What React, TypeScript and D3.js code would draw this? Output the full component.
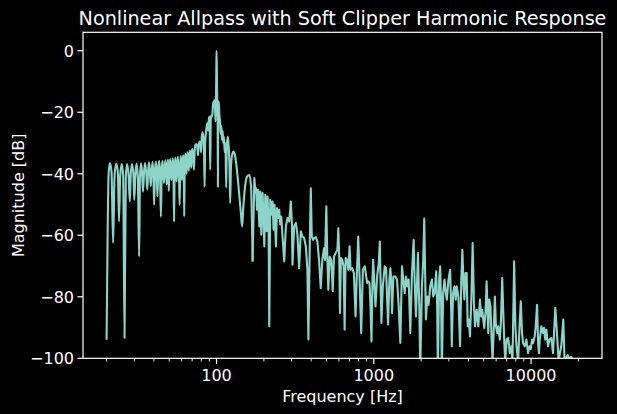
import React from 'react';
import * as d3 from 'd3';

type Pt = [number, number];

// [frequency Hz, magnitude dB]
const band20to100: Pt[] = [
  [20.0, -94], [20.3, -60], [20.6, -40], [21.0, -36.5], [21.5, -39.5], [22.0, -62.5], [22.5, -40],
  [23.1, -36.7], [23.6, -40], [24.0, -55.5], [24.4, -40.5], [25.0, -36.8], [25.5, -41], [26.0, -93.4],
  [26.5, -41], [27.0, -36.8], [27.6, -40.5], [28.1, -49], [28.5, -40], [29.0, -36.8], [29.6, -40],
  [30.0, -48.5], [30.5, -40], [31.0, -36.7], [31.6, -41], [32.2, -66.9], [32.6, -41], [33.1, -36.6],
  [33.6, -39.5], [34.1, -45.8], [34.6, -39.5], [35.1, -36.5], [35.7, -39.5], [36.3, -45.2], [36.7, -39.5],
  [37.2, -36.3], [37.7, -39.5], [38.2, -44], [38.7, -39], [39.2, -36.2], [39.7, -40], [40.1, -50.1],
  [40.6, -39.5], [41.1, -36], [41.6, -39], [42.1, -47.4], [42.6, -39], [43.2, -35.8], [43.7, -39.5],
  [44.3, -54], [44.8, -39], [45.3, -35.8], [45.8, -39], [46.3, -43], [46.8, -38.5], [47.3, -35.6],
  [47.8, -38.5], [48.2, -43.5], [48.7, -38.5], [49.2, -35.4], [49.7, -45.6], [50.2, -38.5], [50.7, -35.2],
  [51.2, -38.5], [51.7, -42], [52.2, -38], [52.7, -35], [53.2, -38.5], [53.7, -55.6], [54.2, -38],
  [54.7, -34.8], [55.2, -38], [55.7, -42.5], [56.2, -37.5], [56.7, -34.5], [57.2, -37.5], [57.7, -41],
  [58.3, -50.1], [58.8, -37], [59.3, -34.2], [59.8, -37], [60.3, -42], [60.8, -36.5], [61.4, -34],
  [61.9, -37], [62.3, -53.9], [62.8, -36.5], [63.4, -33.5], [63.9, -36], [64.4, -40], [64.9, -35.5],
  [65.5, -33], [66.0, -35.5], [66.6, -39], [67.1, -35], [67.7, -32.5], [68.3, -35], [69.0, -38],
  [69.6, -33], [70.3, -32], [71.0, -34], [71.8, -38.7], [72.6, -32.5], [73.5, -30.6], [74.5, -30.3],
  [75.4, -31], [76.2, -34], [77.0, -31], [78.0, -29.5], [79.0, -30], [79.8, -33], [80.6, -28],
  [81.5, -26.5], [82.5, -28], [83.3, -33], [84.0, -44.2], [84.7, -30], [86.0, -25.7], [87.4, -23.5],
  [88.5, -26], [89.5, -22], [90.3, -21.4], [91.2, -38.7], [92.0, -22], [93.0, -21], [93.9, -21.4],
  [94.8, -18], [95.7, -16.5], [96.5, -17], [97.1, -16], [97.9, -19], [98.6, -23], [99.2, -16],
  [99.6, -8], [100.0, 0],
];

const band100to170: Pt[] = [
  [100.5, -6], [101.0, -15.5], [101.6, -17], [102.0, -44.2], [102.5, -20], [103.3, -16.5], [104.3, -21],
  [105.3, -23], [106.3, -27], [107.3, -24.5], [108.3, -29], [109.3, -26], [110.5, -30], [111.5, -28],
  [112.7, -33], [114.0, -30], [115.2, -44.5], [116.3, -31], [117.9, -27.9], [119.5, -31], [121.0, -38],
  [122.1, -49.5], [123.5, -38], [125.5, -34], [128.1, -32.8], [131.0, -34], [135.0, -39], [139.0, -46],
  [143.0, -53], [145.5, -57.1], [148.0, -51], [152.0, -44], [156.0, -41], [161.8, -40.4], [165.8, -44.2],
  [169.6, -68.5],
];

const band170to600: Pt[] = [
  [174.0, -41.4], [176.5, -45.8], [178.3, -44.7], [181.0, -51.7], [183.6, -45.2],
  [187.2, -57.1], [189.9, -45.8], [192.7, -59.8], [196.3, -46.3], [199.3, -55], [201.3, -63.6],
  [204.2, -46.8], [208.2, -58.7], [211.2, -47.4], [214.3, -57.1], [216.5, -89.6], [219.6, -48.5],
  [222.9, -53.3], [227.2, -49], [230.5, -58.2], [233.9, -50.1], [238.7, -63.6], [242.3, -51.2],
  [246.9, -54.4], [250.4, -51.7], [254.2, -56.5], [257.9, -53.9], [262.8, -60.4], [269.4, -68.5],
  [276.1, -57.1], [282.7, -54.4], [289.7, -55.5], [297.0, -49], [301.4, -56], [304.0, -69.6],
  [311.6, -57.1], [319.4, -56], [327.0, -59.8], [335.2, -70.7], [343.6, -58.7], [351.7, -60.4],
  [360.6, -60.9], [369.7, -63.6], [378.3, -71.2], [383.9, -93.9], [391.8, -62.5], [397.6, -44.7],
  [403.4, -60.4], [411.1, -61.5], [417.2, -60.9], [427.6, -60.6], [437.6, -62], [448.6, -68],
  [459.9, -77.2], [470.8, -68], [482.6, -64.2], [489.7, -68], [499.0, -50.6], [506.4, -67],
  [513.8, -77.7], [524.4, -67], [536.7, -68], [548.0, -78.2], [558.4, -66.9], [572.3, -65.8],
  [587.0, -64.7], [594.8, -57.7],
];

const band600to3500: Pt[] = [
  [603.5, -68.0], [609.4, -85.3], [618.3, -67.4], [630.5, -68.0], [642.8, -70.1], [652.4, -90.7],
  [662.0, -67.4], [678.2, -68.0], [688.3, -71.2], [701.7, -63.6], [712.0, -71.2], [729.5, -70.7],
  [747.3, -72.3], [765.8, -86.4], [780.7, -72.3], [796.2, -60.4], [811.7, -73.4], [831.6, -91.8],
  [852.1, -71.2], [877.2, -70.1], [894.5, -73.4], [907.7, -75.5], [920.9, -75.0], [939.1, -75.5],
  [952.8, -83.1], [966.7, -94.5], [981.1, -74.4], [990.6, -68.0], [1010, -76.6], [1025, -83.1],
  [1050, -73.4], [1076, -69.0], [1092, -62.0], [1108, -78.8], [1118, -88.5], [1141, -76.6],
  [1157, -73.4], [1174, -70.1], [1197, -70.7], [1214, -79.9], [1232, -89.0], [1257, -74.4],
  [1275, -70.7], [1294, -75.5], [1306, -85.3], [1332, -73.4], [1371, -73.4], [1405, -74.4],
  [1440, -83.1], [1475, -95.0], [1511, -70.1], [1541, -74.4], [1572, -78.8], [1603, -73.4],
  [1634, -76.6], [1666, -74.4], [1707, -91.8], [1749, -72.3], [1792, -61.5], [1818, -74.4],
  [1854, -86.4], [1881, -76.6], [1909, -65.8], [1946, -83.1], [1975, -104], [2023, -76.6],
  [2063, -68.0], [2093, -54.6], [2124, -74.4], [2145, -87.4], [2187, -79.9], [2230, -82.6],
  [2285, -76.6], [2341, -74.4], [2387, -79.9], [2434, -78.8], [2493, -71.7], [2530, -83.1],
  [2555, -105], [2604, -74.4], [2643, -70.1], [2682, -83.1], [2708, -105], [2761, -78.8],
  [2815, -74.4], [2871, -78.8], [2913, -80.9], [2985, -74.4], [3058, -71.2], [3103, -83.1],
  [3133, -96.1], [3192, -78.8], [3255, -76.6], [3319, -80.9], [3368, -76.6], [3451, -80.0],
];

const band3500to20000: Pt[] = [
  [3536, -96.1], [3600, -75], [3658, -64.7], [3720, -76], [3767, -80.9], [3830, -72.3], [3896, -72.3],
  [3954, -89.6], [4020, -87.4], [4090, -92.9], [4170, -80.9], [4253, -62.5], [4330, -82], [4400, -89.6],
  [4508, -84.2], [4619, -89.6], [4733, -80.9], [4810, -86.4], [4890, -84.2], [4967, -87.4], [5040, -90.1],
  [5130, -85.3], [5215, -75.0], [5290, -84.2], [5344, -91.8], [5420, -80.9], [5520, -83.1], [5610, -93.9],
  [5692, -101], [5800, -89.6], [5889, -79.9], [5980, -89.6], [6100, -91.8], [6182, -89.6], [6334, -93.9],
  [6440, -87.4], [6553, -73.9], [6650, -84.2], [6747, -93.9], [6850, -101], [6990, -93.9], [7152, -93.4],
  [7328, -98.3], [7500, -96.1], [7619, -101], [7805, -68.5], [7950, -89.6], [8075, -96.1], [8273, -101],
  [8450, -89.6], [8601, -81.5], [8760, -91.8], [8899, -95.0], [9118, -96.1], [9340, -93.9], [9572, -98.3],
  [9780, -96.1], [9952, -97], [10150, -93.9], [10300, -95.0], [10550, -92.8], [10700, -89.6],
  [10920, -82.6], [11080, -95.0], [11220, -98.3], [11350, -93.9], [11630, -89.6], [11900, -91.8],
  [12090, -90.1], [12300, -93.9], [12510, -90.7], [12810, -96.1], [13100, -93.9], [13450, -93.4],
  [13790, -98.3], [14000, -91.8], [14260, -83.6], [14610, -91.8], [14970, -101], [15250, -98.3],
  [15560, -96.1], [15790, -91.8], [16020, -87.4], [16340, -101], [16740, -99.7], [17100, -99],
  [17570, -100.2], [18000, -99.5], [18450, -101], [19360, -106], [20000, -112],
];

const xMajorTicks = [100, 1000, 10000];
const xMinorTicks = [20, 30, 40, 50, 60, 70, 80, 90, 200, 300, 400, 500, 600, 700, 800, 900,
  2000, 3000, 4000, 5000, 6000, 7000, 8000, 9000, 20000];
const yTicks = [0, -20, -40, -60, -80, -100];
const chartTitle = 'Nonlinear Allpass with Soft Clipper Harmonic Response';
const xLabel = 'Frequency [Hz]';
const yLabel = 'Magnitude [dB]';

const W = 617;
const H = 414;
const FONT = "'DejaVu Sans', sans-serif";
const LINE_COLOR = '#8dd3c7';

export default function App() {
  const left = 83, right = 602, top = 32.3, bottom = 358.3;
  const x = d3.scaleLog().domain([20 / Math.pow(10, 0.15), 20000 * Math.pow(10, 0.15)]).range([left, right]);
  const y = d3.scaleLinear().domain([-100, 6]).range([bottom, top]);
  const lowData: Pt[] = [...band20to100, ...band100to170];
  const highData: Pt[] = [band100to170[band100to170.length - 1], ...band170to600, ...band600to3500, ...band3500to20000];
  const smoothLine = d3.line<Pt>().x(d => x(d[0])).y(d => y(d[1])).curve(d3.curveMonotoneX);
  const sharpLine = d3.line<Pt>().x(d => x(d[0])).y(d => y(d[1])).curve(d3.curveLinear);
  const fmtY = (v: number) => (v < 0 ? '\u2212' : '') + Math.abs(v);

  return (
    <svg width={W} height={H} style={{ position: 'absolute', left: 0, top: 0, background: '#000' }}
      fontFamily={FONT}>
      <rect x={0} y={0} width={W} height={H} fill="#000" />
      <defs>
        <clipPath id="plotClip">
          <rect x={left} y={top} width={right - left} height={bottom - top} />
        </clipPath>
      </defs>
      <g clipPath="url(#plotClip)" fill="none" stroke={LINE_COLOR} strokeWidth={2.1} strokeLinejoin="round">
        <path d={smoothLine(lowData) || ''} />
        <path d={sharpLine(highData) || ''} />
      </g>
      <rect x={left} y={top} width={right - left} height={bottom - top} fill="none" stroke="#fff" strokeWidth={1.2} />
      {xMajorTicks.map(t => (
        <g key={'xm' + t}>
          <line x1={x(t)} x2={x(t)} y1={bottom} y2={bottom + 5.6} stroke="#fff" strokeWidth={1.2} />
          <text x={x(t)} y={381} fill="#fff" fontSize={16} textAnchor="middle">{t}</text>
        </g>
      ))}
      {xMinorTicks.map(t => (
        <line key={'xn' + t} x1={x(t)} x2={x(t)} y1={bottom} y2={bottom + 3.2} stroke="#fff" strokeWidth={0.9} />
      ))}
      {yTicks.map(t => (
        <g key={'y' + t}>
          <line x1={left - 5.6} x2={left} y1={y(t)} y2={y(t)} stroke="#fff" strokeWidth={1.2} />
          <text x={74} y={y(t)} dy="0.36em" fill="#fff" fontSize={16} textAnchor="end">{fmtY(t)}</text>
        </g>
      ))}
      <text x={(left + right) / 2} y={24.5} fill="#fff" fontSize={19.2} textAnchor="middle">{chartTitle}</text>
      <text x={(left + right) / 2} y={402} fill="#fff" fontSize={16} textAnchor="middle">{xLabel}</text>
      <text transform={`translate(23.5,${(top + bottom) / 2}) rotate(-90)`} fill="#fff" fontSize={16}
        textAnchor="middle">{yLabel}</text>
    </svg>
  );
}
